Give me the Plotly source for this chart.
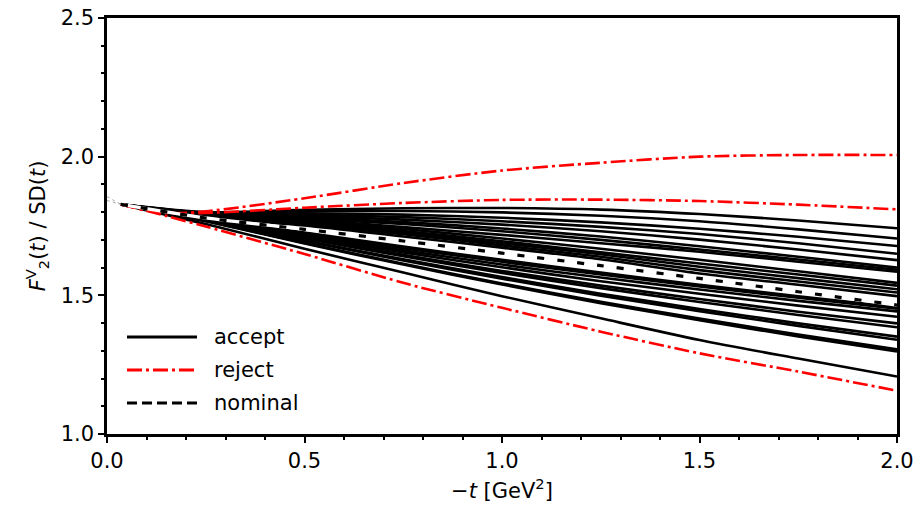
import plotly.graph_objects as go

t_nodes = [0.035, 0.25, 0.5, 0.75, 1.0, 1.25, 1.5, 1.75, 2.0]

# accepted curves F2V(t)/SD(t)
accept_values = [
    [1.828, 1.800, 1.808, 1.814, 1.815, 1.809, 1.793, 1.770, 1.742],
    [1.828, 1.798, 1.803, 1.804, 1.799, 1.787, 1.767, 1.738, 1.705],
    [1.828, 1.796, 1.796, 1.791, 1.780, 1.763, 1.740, 1.711, 1.678],
    [1.828, 1.794, 1.791, 1.782, 1.767, 1.747, 1.721, 1.688, 1.650],
    [1.828, 1.792, 1.786, 1.773, 1.755, 1.731, 1.701, 1.665, 1.627],
    [1.828, 1.790, 1.781, 1.764, 1.741, 1.712, 1.677, 1.639, 1.600],
    [1.828, 1.789, 1.777, 1.757, 1.731, 1.700, 1.665, 1.629, 1.592],
    [1.828, 1.788, 1.772, 1.746, 1.718, 1.688, 1.657, 1.621, 1.585],
    [1.828, 1.787, 1.767, 1.739, 1.705, 1.668, 1.628, 1.587, 1.545],
    [1.828, 1.786, 1.764, 1.732, 1.695, 1.655, 1.615, 1.575, 1.535],
    [1.828, 1.785, 1.760, 1.726, 1.688, 1.648, 1.603, 1.562, 1.522],
    [1.828, 1.784, 1.756, 1.720, 1.680, 1.639, 1.591, 1.550, 1.510],
    [1.828, 1.783, 1.752, 1.712, 1.672, 1.630, 1.579, 1.538, 1.497],
    [1.828, 1.778, 1.726, 1.676, 1.628, 1.582, 1.538, 1.497, 1.458],
    [1.828, 1.777, 1.722, 1.670, 1.621, 1.575, 1.532, 1.491, 1.452],
    [1.828, 1.776, 1.717, 1.662, 1.611, 1.564, 1.521, 1.480, 1.442],
    [1.828, 1.775, 1.713, 1.655, 1.601, 1.551, 1.506, 1.463, 1.423],
    [1.828, 1.774, 1.708, 1.646, 1.588, 1.535, 1.487, 1.441, 1.399],
    [1.828, 1.773, 1.705, 1.641, 1.581, 1.526, 1.476, 1.429, 1.385],
    [1.828, 1.771, 1.698, 1.630, 1.566, 1.506, 1.451, 1.399, 1.351],
    [1.828, 1.770, 1.696, 1.626, 1.560, 1.499, 1.443, 1.390, 1.340],
    [1.828, 1.768, 1.689, 1.614, 1.543, 1.477, 1.416, 1.359, 1.305],
    [1.828, 1.767, 1.687, 1.611, 1.539, 1.472, 1.410, 1.352, 1.298],
    [1.828, 1.757, 1.668, 1.582, 1.497, 1.417, 1.339, 1.272, 1.207],
]

# rejected curves
reject_t = [0.035, 0.15, 0.25, 0.5, 0.75, 1.0, 1.25, 1.5, 1.75, 2.0]
reject_high = [1.828, 1.797, 1.803, 1.850, 1.905, 1.950, 1.978, 2.000, 2.006, 2.006]
reject_mid = [1.828, 1.798, 1.797, 1.816, 1.833, 1.844, 1.845, 1.840, 1.827, 1.810]
reject_low = [1.828, 1.786, 1.748, 1.649, 1.545, 1.455, 1.369, 1.291, 1.225, 1.156]

# nominal curve
nominal_values = [1.828, 1.779, 1.738, 1.696, 1.652, 1.607, 1.561, 1.513, 1.465]

# faint extension toward t = 0
ext_t = [0.0, 0.035]
ext_high = [1.856, 1.828]
ext_low = [1.842, 1.828]

legend_labels = ["accept", "reject", "nominal"]

FONT = "DejaVu Sans, Arial, sans-serif"
fig = go.Figure()

for vals in accept_values:
    fig.add_trace(go.Scatter(x=t_nodes, y=vals, mode="lines",
                             line=dict(color="black", width=2.6, shape="spline", smoothing=0.8),
                             showlegend=False, hoverinfo="skip"))

for vals in (reject_high, reject_mid, reject_low):
    fig.add_trace(go.Scatter(x=reject_t, y=vals, mode="lines",
                             line=dict(color="red", width=2.6, dash="15px,4px,3px,4px",
                                       shape="spline", smoothing=0.8),
                             showlegend=False, hoverinfo="skip"))

fig.add_trace(go.Scatter(x=t_nodes, y=nominal_values, mode="lines",
                         line=dict(color="white", width=3.2, shape="spline", smoothing=0.8),
                         showlegend=False, hoverinfo="skip"))
fig.add_trace(go.Scatter(x=t_nodes, y=nominal_values, mode="lines",
                         line=dict(color="black", width=3.2, dash="7px,13px",
                                   shape="spline", smoothing=0.8),
                         showlegend=False, hoverinfo="skip"))

for vals in (ext_high, ext_low):
    fig.add_trace(go.Scatter(x=ext_t, y=vals, mode="lines",
                             line=dict(color="#999999", width=0.8, dash="dot"),
                             showlegend=False, hoverinfo="skip"))

# custom legend (long line samples like the original)
leg_y = [0.2332, 0.1538, 0.0745]
leg_styles = [dict(color="black", width=3, dash="solid"),
              dict(color="red", width=3, dash="15px,4px,3px,4px"),
              dict(color="black", width=3, dash="10px,5px")]
for yy, lab, st in zip(leg_y, legend_labels, leg_styles):
    fig.add_shape(type="line", xref="paper", yref="paper",
                  x0=0.0253, x1=0.1139, y0=yy, y1=yy, line=st)
    fig.add_annotation(xref="paper", yref="paper", x=0.1329, y=yy, text=lab,
                       showarrow=False, xanchor="left", yanchor="middle",
                       font=dict(family=FONT, size=21, color="black"))

axis_common = dict(showline=True, linecolor="black", linewidth=2.5, mirror=True,
                   ticks="outside", ticklen=6, tickwidth=2, tickcolor="black",
                   showgrid=False, zeroline=False, automargin=False,
                   tickfont=dict(family=FONT, size=21, color="black"))

fig.update_xaxes(range=[0, 2.0], tickvals=[0, 0.5, 1.0, 1.5, 2.0],
                 ticktext=["0.0", "0.5", "1.0", "1.5", "2.0"],
                 minor=dict(ticks="outside", dtick=0.1, ticklen=3.5, tickwidth=1.5, tickcolor="black"),
                 title=dict(text="\u2212<i>t</i> [GeV<sup>2</sup>]",
                            font=dict(family=FONT, size=21, color="black"), standoff=12),
                 **axis_common)
fig.update_yaxes(range=[1.0, 2.5], tickvals=[1.0, 1.5, 2.0, 2.5],
                 ticktext=["1.0", "1.5", "2.0", "2.5"],
                 minor=dict(ticks="outside", dtick=0.1, ticklen=3.5, tickwidth=1.5, tickcolor="black"),
                 title=dict(text="<i>F</i><sup>V</sup><sub>2</sub>(<i>t</i>) / SD(<i>t</i>)",
                            font=dict(family=FONT, size=21, color="black"), standoff=10),
                 **axis_common)

fig.update_layout(width=917, height=509, margin=dict(l=107, r=20, t=18, b=75),
                  plot_bgcolor="white", paper_bgcolor="white", showlegend=False,
                  font=dict(family=FONT, size=21, color="black"))

fig.write_html("out.html")
